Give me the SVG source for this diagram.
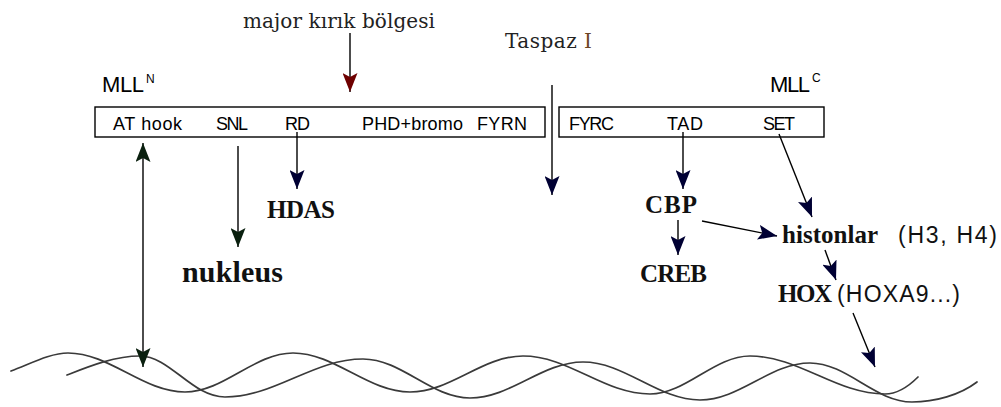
<svg xmlns="http://www.w3.org/2000/svg" width="1001" height="407" viewBox="0 0 1001 407">
  <style>
    .box { fill: none; stroke: #000; stroke-width: 1.4; }
    .lbl { font-family: "Liberation Sans", Arial, sans-serif; font-size: 18px; fill: #000; }
    .mll { font-family: "Liberation Sans", Arial, sans-serif; font-size: 22px; fill: #000; }
    .sup { font-family: "Liberation Sans", Arial, sans-serif; font-size: 12px; fill: #000; }
    .ser { font-family: "DejaVu Serif", "Liberation Serif", serif; font-size: 20px; fill: #222; }
    .bold { font-family: "Liberation Serif", "Times New Roman", serif; font-weight: bold; font-size: 25px; fill: #111; }
    .big { font-size: 30px; }
    .san { font-family: "Liberation Sans", Arial, sans-serif; font-size: 23px; fill: #111; }
    .ln { fill: none; stroke: #000; stroke-width: 1.4; }
    .dna { fill: none; stroke: #3a3a3a; stroke-width: 1.7; stroke-linecap: round; }
  </style>
  <defs>
    <marker id="headNavy" markerUnits="userSpaceOnUse" markerWidth="20" markerHeight="15" refX="19" refY="7.5" orient="auto">
      <path d="M0,0 L19,7.5 L0,15 L4,7.5 z" fill="#000033"/>
    </marker>
    <marker id="headGreen" markerUnits="userSpaceOnUse" markerWidth="20" markerHeight="15" refX="19" refY="7.5" orient="auto-start-reverse">
      <path d="M0,0 L19,7.5 L0,15 L4,7.5 z" fill="#0a200f"/>
    </marker>
    <marker id="headRed" markerUnits="userSpaceOnUse" markerWidth="20" markerHeight="15" refX="19" refY="7.5" orient="auto">
      <path d="M0,0 L19,7.5 L0,15 L4,7.5 z" fill="#6e0000"/>
    </marker>
  </defs>

  <!-- DNA double strand -->
  <g id="dna">
    <path class="dna" d="M11,371 C30,364 50,353 68,353 C110,353 143,392 185,392 C224,392 254,353 293,353 C335,353 368,392 410,392 C451,392 482,356 523,356 C569,356 604,394 650,394 C686,394 714,356 750,356 C799,356 836,394 885,394 C898,394 910,385 918,377"/>
    <path class="dna" d="M67,375 C90,366 115,356 140,356 C170,356 192,397 225,397 C275,397 313,359 363,359 C402,359 431,398 470,398 C511,398 542,362 583,362 C625,362 658,400 700,400 C740,400 770,363 810,363 C847,363 875,402 912,402 C935,402 960,395 977,382"/>
  </g>

  <!-- N-terminal fragment -->
  <g id="mll-n">
    <rect class="box" x="95" y="107" width="450" height="30"/>
    <text class="mll" x="102" y="92" textLength="42">MLL</text>
    <text class="sup" x="146" y="83">N</text>
    <text class="lbl" x="113" y="130" textLength="69">AT hook</text>
    <text class="lbl" x="216" y="130" textLength="32">SNL</text>
    <text class="lbl" x="285" y="130" textLength="25">RD</text>
    <text class="lbl" x="362" y="130" textLength="101">PHD+bromo</text>
    <text class="lbl" x="477" y="130" textLength="50">FYRN</text>
  </g>

  <!-- C-terminal fragment -->
  <g id="mll-c">
    <rect class="box" x="559" y="107" width="265" height="30"/>
    <text class="mll" x="770" y="92" textLength="40">MLL</text>
    <text class="sup" x="812" y="82">C</text>
    <text class="lbl" x="569" y="130" textLength="45">FYRC</text>
    <text class="lbl" x="667" y="130" textLength="36">TAD</text>
    <text class="lbl" x="763" y="130" textLength="32">SET</text>
  </g>

  <g id="breakpoint">
    <text class="ser" x="243" y="28" textLength="192">major kırık bölgesi</text>
  </g>
  <g id="taspaz">
    <text class="ser" x="505" y="48" textLength="87">Taspaz <tspan fill="#6b4423">I</tspan></text>
  </g>
  <g id="hdas"><text class="bold" x="267" y="218" textLength="68">HDAS</text></g>
  <g id="nukleus"><text class="bold big" x="182" y="282" textLength="101">nukleus</text></g>
  <g id="cbp"><text class="bold" x="645" y="213" textLength="52">CBP</text></g>
  <g id="creb"><text class="bold" x="640" y="282" textLength="67">CREB</text></g>
  <g id="histonlar">
    <text class="bold" x="782" y="243" textLength="96">histonlar</text>
    <text class="san" x="898" y="243" textLength="99">(H3, H4)</text>
  </g>
  <g id="hox">
    <text class="bold" x="778" y="302" textLength="54">HOX</text>
    <text class="san" x="837" y="302" textLength="123">(HOXA9...)</text>
  </g>

  <!-- connectors -->
  <g id="connectors">
    <line class="ln" x1="350" y1="33" x2="350" y2="92" marker-end="url(#headRed)"/>
    <line class="ln" x1="552" y1="85" x2="552" y2="195" marker-end="url(#headNavy)"/>
    <line class="ln" x1="143" y1="143" x2="143" y2="367" marker-start="url(#headGreen)" marker-end="url(#headGreen)"/>
    <line class="ln" x1="238" y1="146" x2="238" y2="247" marker-end="url(#headGreen)"/>
    <line class="ln" x1="297" y1="132" x2="297" y2="189" marker-end="url(#headNavy)"/>
    <line class="ln" x1="683" y1="132" x2="683" y2="189" marker-end="url(#headNavy)"/>
    <line class="ln" x1="779" y1="134" x2="812" y2="217" marker-end="url(#headNavy)"/>
    <line class="ln" x1="678" y1="220" x2="678" y2="255" marker-end="url(#headNavy)"/>
    <line class="ln" x1="702" y1="221" x2="777" y2="236" marker-end="url(#headNavy)"/>
    <line class="ln" x1="825" y1="250" x2="836" y2="280" marker-end="url(#headNavy)"/>
    <line class="ln" x1="853" y1="313" x2="875" y2="367" marker-end="url(#headNavy)"/>
  </g>
</svg>
